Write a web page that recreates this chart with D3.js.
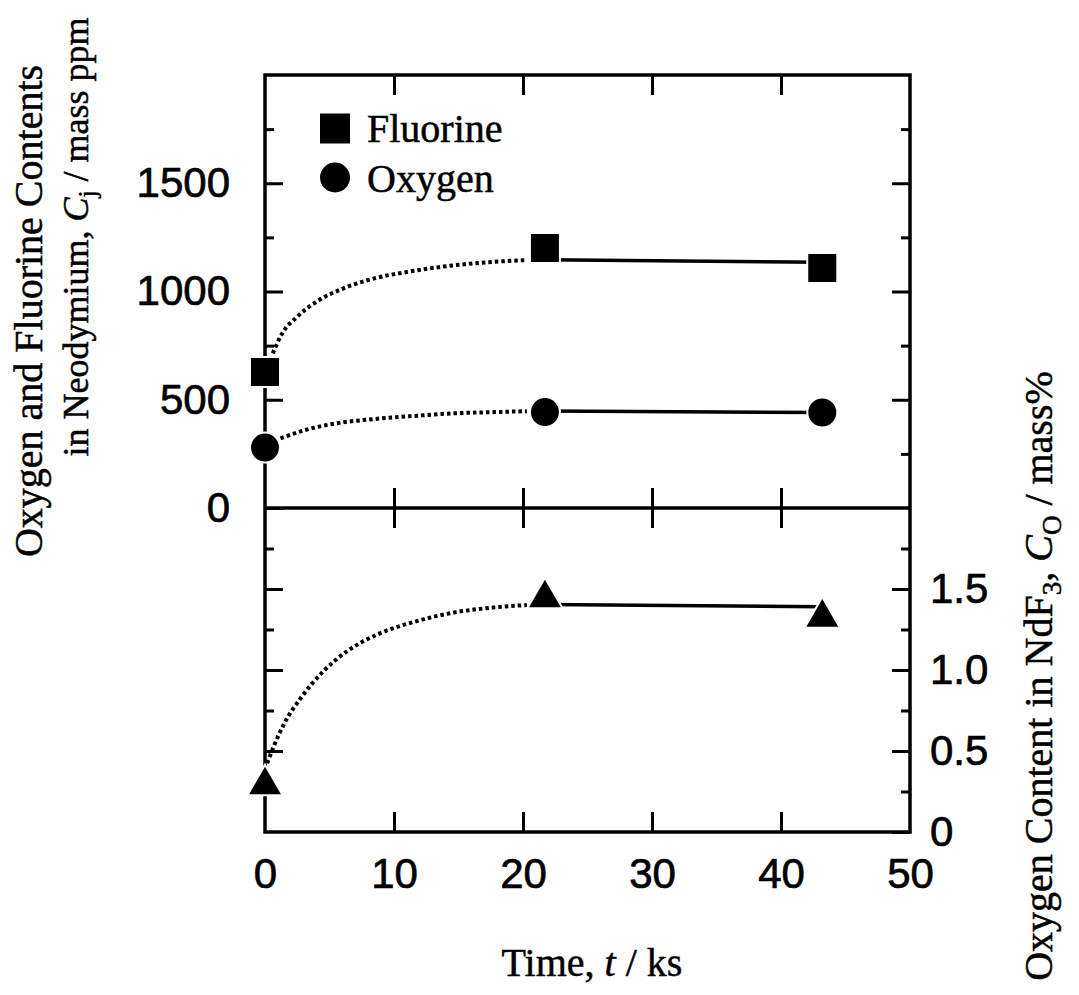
<!DOCTYPE html>
<html>
<head>
<meta charset="utf-8">
<script src="https://cdn.jsdelivr.net/npm/d3@7"></script>
<style>
  body { margin: 0; background: white; }
  .serif { font-family: "Liberation Serif", "Times New Roman", serif; font-size: 40px; fill: black; stroke: black; stroke-width: 0.5px; }
  .tick text { font-family: "Liberation Sans", Arial, sans-serif; font-size: 42px; fill: black; stroke: black; stroke-width: 0.7px; }
  .tick line { stroke: black; stroke-width: 3px; }
  .domain { display: none; }
</style>
</head>
<body>
<svg width="1079" height="995"></svg>
<script>
// measured points
var time = [0, 21.7, 43.2];
var fluorine = [628, 1201, 1109];      // mass ppm
var oxygen = [279, 443, 441];          // mass ppm
var oxygenNdF3 = [0.32, 1.475, 1.355]; // mass%

// guide lines (dotted part, then the solid plateau)
var fGuideT = [0.6, 1.34, 2.5, 4.0, 6.1, 8.5, 11.2, 14.2, 17.2, 20.3];
var fGuideV = [714, 807, 884, 953, 1015, 1061, 1092, 1118, 1135, 1145];
var fPlateau = [1147, 1135];
var oGuideT = [1.2, 3.1, 5.5, 8.5, 11.5, 14.5, 17.8, 20.3];
var oGuideV = [322, 360, 391, 411, 425, 437, 443, 447];
var oPlateau = [448, 441];
var nGuideT = [0.17, 0.67, 1.5, 2.85, 4.5, 6.5, 8.9, 11.6, 14.6, 17.6, 20.3];
var nGuideV = [0.424, 0.527, 0.671, 0.835, 0.99, 1.123, 1.226, 1.298, 1.354, 1.385, 1.401];
var nPlateau = [1.404, 1.39];
var plateauT = [21.7, 43.2];

var xTicks = [0, 10, 20, 30, 40, 50];
var ppmMajor = [0, 500, 1000, 1500];
var ppmMinor = [250, 750, 1250, 1750];
var pctMajor = [0, 0.5, 1.0, 1.5];
var pctMinor = [0.25, 0.75, 1.25, 1.75];

var svg = d3.select("svg");
var x0 = 265, x1 = 910, yT = 75, yM = 508, yB = 832;

var x = d3.scaleLinear().domain([0, 50]).range([x0, x1]);
var yTop = d3.scaleLinear().domain([0, 2000]).range([yM, yT]);
var yBot = d3.scaleLinear().domain([0, 2]).range([yB, yM]);

function noLabel(g) { g.selectAll("text").remove(); }

// x axes: top border, middle line (both sides), bottom border
svg.append("g").attr("transform", "translate(0," + yT + ")")
  .call(d3.axisTop(x).tickValues([10, 20, 30, 40]).tickSize(-20)).call(noLabel);
svg.append("g").attr("transform", "translate(0," + yM + ")")
  .call(d3.axisTop(x).tickValues([10, 20, 30, 40]).tickSize(20)).call(noLabel);
svg.append("g").attr("transform", "translate(0," + yM + ")")
  .call(d3.axisBottom(x).tickValues([10, 20, 30, 40]).tickSize(20)).call(noLabel);
var xb = svg.append("g").attr("transform", "translate(0," + yB + ")")
  .call(d3.axisBottom(x).tickValues(xTicks).tickSize(-20).tickFormat(d3.format("d")));
xb.selectAll("text").attr("y", 56).attr("dy", 0);
xb.selectAll(".tick").filter(function(d) { return d === 0 || d === 50; }).select("line").remove();

// top panel y axes
svg.append("g").attr("transform", "translate(" + x0 + ",0)")
  .call(d3.axisLeft(yTop).tickValues(ppmMajor).tickSize(-18).tickPadding(35).tickFormat(d3.format("d")));
svg.append("g").attr("transform", "translate(" + x0 + ",0)")
  .call(d3.axisLeft(yTop).tickValues(ppmMinor).tickSize(-9)).call(noLabel);
svg.append("g").attr("transform", "translate(" + x1 + ",0)")
  .call(d3.axisRight(yTop).tickValues([500, 1000, 1500]).tickSize(-18)).call(noLabel);
svg.append("g").attr("transform", "translate(" + x1 + ",0)")
  .call(d3.axisRight(yTop).tickValues(ppmMinor).tickSize(-9)).call(noLabel);

// bottom panel y axes
svg.append("g").attr("transform", "translate(" + x0 + ",0)")
  .call(d3.axisLeft(yBot).tickValues([0.5, 1.0, 1.5]).tickSize(-18)).call(noLabel);
svg.append("g").attr("transform", "translate(" + x0 + ",0)")
  .call(d3.axisLeft(yBot).tickValues(pctMinor).tickSize(-9)).call(noLabel);
svg.append("g").attr("transform", "translate(" + x1 + ",0)")
  .call(d3.axisRight(yBot).tickValues(pctMajor).tickSize(-18).tickPadding(20)
    .tickFormat(function(d) { return d === 0 ? "0" : d3.format(".1f")(d); }));
svg.append("g").attr("transform", "translate(" + x1 + ",0)")
  .call(d3.axisRight(yBot).tickValues(pctMinor).tickSize(-9)).call(noLabel);

// frame + separating line
svg.append("rect").attr("x", x0).attr("y", yT)
  .attr("width", x1 - x0).attr("height", yB - yT)
  .attr("fill", "none").attr("stroke", "black").attr("stroke-width", 3.5);
svg.append("line").attr("x1", x0).attr("x2", x1).attr("y1", yM).attr("y2", yM)
  .attr("stroke", "black").attr("stroke-width", 3.5);

// guide curves
function guide(ts, vs, y) {
  var pts = ts.map(function(t, i) { return [x(t), y(vs[i])]; });
  svg.append("path").attr("d", d3.line().curve(d3.curveMonotoneX)(pts))
    .attr("fill", "none").attr("stroke", "black")
    .attr("stroke-width", 4).attr("stroke-dasharray", "3.5,3");
}
function plateau(vs, y) {
  svg.append("path").attr("d", d3.line()(plateauT.map(function(t, i) { return [x(t), y(vs[i])]; })))
    .attr("fill", "none").attr("stroke", "black").attr("stroke-width", 3.5);
}
guide(fGuideT, fGuideV, yTop); plateau(fPlateau, yTop);
guide(oGuideT, oGuideV, yTop); plateau(oPlateau, yTop);
guide(nGuideT, nGuideV, yBot); plateau(nPlateau, yBot);

// markers
var sq = d3.symbol().type(d3.symbolSquare).size(30 * 30);
var ci = d3.symbol().type(d3.symbolCircle).size(Math.PI * 15 * 15);
var tr = d3.symbol().type(d3.symbolTriangle).size(540);

function markers(vals, y, sym, dy) {
  svg.append("g").selectAll("path").data(vals).join("path")
    .attr("d", sym)
    .attr("transform", function(d, i) { return "translate(" + x(time[i]) + "," + (y(d) + dy) + ")"; })
    .attr("fill", "black").attr("stroke", "white").attr("stroke-width", 2);
}
markers(fluorine, yTop, sq, 0);
markers(oxygen, yTop, ci, 0);
markers(oxygenNdF3, yBot, tr, 5);

// legend
var legend = svg.append("g");
legend.append("path").attr("d", sq).attr("transform", "translate(335,128.5)");
legend.append("path").attr("d", ci).attr("transform", "translate(335,177.5)");
legend.append("text").attr("class", "serif").attr("x", 367).attr("y", 142).text("Fluorine");
legend.append("text").attr("class", "serif").attr("x", 367).attr("y", 192).text("Oxygen");

// axis titles
svg.append("text").attr("class", "serif").attr("text-anchor", "middle")
  .attr("transform", "translate(42,311) rotate(-90)").text("Oxygen and Fluorine Contents");

var t2 = svg.append("text").attr("class", "serif").attr("text-anchor", "middle")
  .style("font-size", "36px")
  .attr("transform", "translate(88,237) rotate(-90)");
t2.append("tspan").text("in Neodymium, ");
t2.append("tspan").attr("font-style", "italic").text("C");
t2.append("tspan").style("font-size", "25px").attr("dy", 8).text("j");
t2.append("tspan").attr("dy", -8).text(" / mass ppm");

var t3 = svg.append("text").attr("class", "serif").attr("text-anchor", "middle")
  .attr("transform", "translate(1052,676) rotate(-90)");
t3.append("tspan").text("Oxygen Content in NdF");
t3.append("tspan").style("font-size", "27px").attr("dy", 9).text("3");
t3.append("tspan").attr("dy", -9).text(", ");
t3.append("tspan").attr("font-style", "italic").text("C");
t3.append("tspan").style("font-size", "27px").attr("dy", 9).text("O");
t3.append("tspan").attr("dy", -9).text(" / mass%");

var t4 = svg.append("text").attr("class", "serif").attr("text-anchor", "middle")
  .attr("x", 592).attr("y", 976);
t4.append("tspan").text("Time, ");
t4.append("tspan").attr("font-style", "italic").text("t");
t4.append("tspan").text(" / ks");
</script>
</body>
</html>
